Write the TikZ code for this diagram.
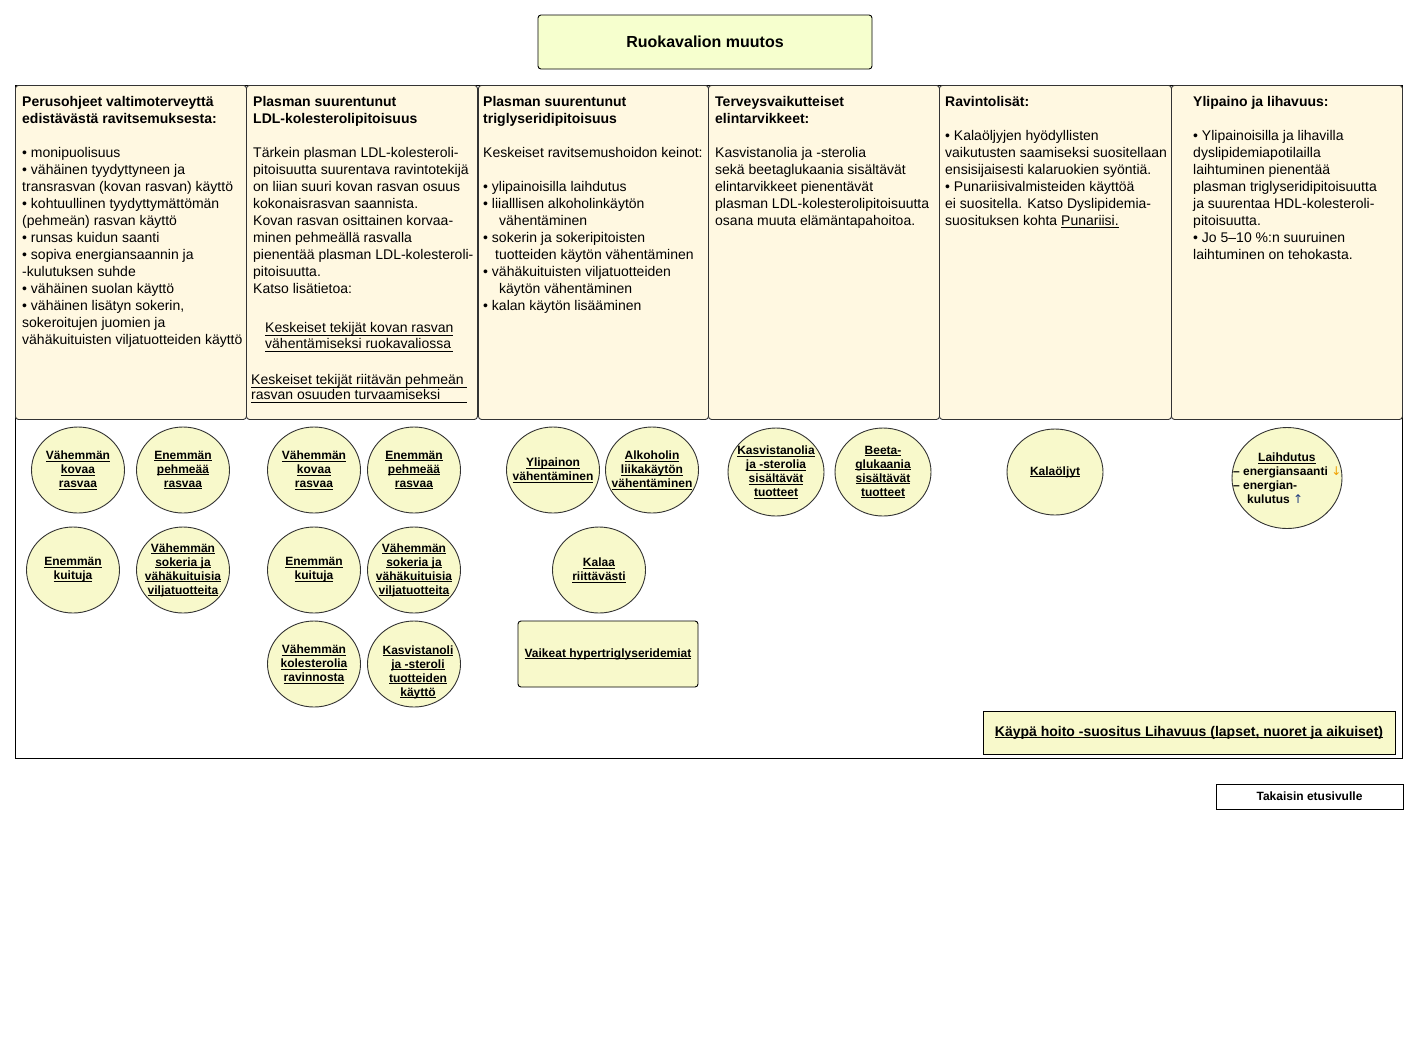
\documentclass[tikz,border=0pt]{standalone}
\usepackage{fontspec}
\setmainfont{Liberation Sans}
\newfontfamily\arrowfont{DejaVu Sans}
\usetikzlibrary{shapes.geometric}
\definecolor{colfill}{HTML}{FFF8E1}
\definecolor{circfill}{HTML}{F8F9CB}
\definecolor{titlefill}{HTML}{F6FFCE}
\definecolor{edgegray}{HTML}{333333}
\definecolor{arrorange}{HTML}{F0A000}
\definecolor{arrblue}{HTML}{203C80}
\newcommand\ulk[1]{\leavevmode\begingroup\setbox0\hbox{#1}\rlap{\rule[-2pt]{\wd0}{0.8pt}}\box0\endgroup}
\newcommand\ulw[2]{\leavevmode\rlap{\rule[-3pt]{#1}{0.7pt}}#2}
\begin{document}
\begin{tikzpicture}[x=1pt,y=-1pt,
  colbox/.style={draw=edgegray, line width=0.9pt, fill=colfill, rounded corners=3pt, anchor=north west, minimum width=231pt, minimum height=334pt, inner sep=0pt},
  coltext/.style={anchor=north west, inner sep=0pt, align=left, font=\fontsize{14}{17}\selectfont},
  linktext/.style={anchor=north west, inner sep=0pt, align=left, font=\fontsize{14}{16}\selectfont},
  circ/.style={draw=edgegray, line width=0.9pt, fill=circfill, ellipse, minimum width=93pt, minimum height=86pt, inner sep=0pt},
  ctext/.style={align=center, inner sep=0pt, font=\fontsize{12}{14}\selectfont\bfseries},
  smallbox/.style={draw=black, line width=0.9pt, fill=circfill, inner sep=0pt}]
\fill[white] (0,0) rectangle (1418,1061);
\useasboundingbox (0,0) rectangle (1418,1061);

% title
\node[draw=black, line width=0.9pt, fill=titlefill, rounded corners=3pt, minimum width=334pt, minimum height=54pt, inner sep=0pt, font=\fontsize{16}{18}\selectfont\bfseries] (title) at (705,42) {Ruokavalion muutos};

% outer frame
\node[draw=black, line width=0.9pt, anchor=north west, minimum width=1387pt, minimum height=673pt, inner sep=0pt] (frame) at (15,85) {};

% column boxes
\node[colbox] (col1) at (15,85) {};
\node[colbox] (col2) at (246,85) {};
\node[colbox, minimum width=230pt] (col3) at (478,85) {};
\node[colbox] (col4) at (708,85) {};
\node[colbox, minimum width=232pt] (col5) at (939,85) {};
\node[colbox] (col6) at (1171,85) {};

% column texts
\node[coltext] (t1) at (22,96) {\textbf{Perusohjeet valtimoterveyttä}\\\textbf{edistävästä ravitsemuksesta:}\\[17pt]
• monipuolisuus\\
• vähäinen tyydyttyneen ja\\
transrasvan (kovan rasvan) käyttö\\
• kohtuullinen tyydyttymättömän\\
(pehmeän) rasvan käyttö\\
• runsas kuidun saanti\\
• sopiva energiansaannin ja\\
-kulutuksen suhde\\
• vähäinen suolan käyttö\\
• vähäinen lisätyn sokerin,\\
sokeroitujen juomien ja\\
vähäkuituisten viljatuotteiden käyttö};

\node[coltext] (t2) at (253,96) {\textbf{Plasman suurentunut}\\\textbf{LDL-kolesterolipitoisuus}\\[17pt]
Tärkein plasman LDL-kolesteroli-\\
pitoisuutta suurentava ravintotekijä\\
on liian suuri kovan rasvan osuus\\
kokonaisrasvan saannista.\\
Kovan rasvan osittainen korvaa-\\
minen pehmeällä rasvalla\\
pienentää plasman LDL-kolesteroli-\\
pitoisuutta.\\
Katso lisätietoa:};

\node[linktext] (link1) at (265,322) {\ulw{188pt}{Keskeiset tekijät kovan rasvan}\\\ulw{188pt}{vähentämiseksi ruokavaliossa}};
\node[linktext, font=\fontsize{14}{15}\selectfont] (link2) at (251,374) {\ulw{216pt}{Keskeiset tekijät riitävän pehmeän}\\\ulw{216pt}{rasvan osuuden turvaamiseksi}};

\node[coltext] (t3) at (483,96) {\textbf{Plasman suurentunut}\\\textbf{triglyseridipitoisuus}\\[17pt]
Keskeiset ravitsemushoidon keinot:\\[17pt]
• ylipainoisilla laihdutus\\
• liialllisen alkoholinkäytön\\
\hspace*{16pt}vähentäminen\\
• sokerin ja sokeripitoisten\\
\hspace*{12pt}tuotteiden käytön vähentäminen\\
• vähäkuituisten viljatuotteiden\\
\hspace*{16pt}käytön vähentäminen\\
• kalan käytön lisääminen};

\node[coltext] (t4) at (715,96) {\textbf{Terveysvaikutteiset}\\\textbf{elintarvikkeet:}\\[17pt]
Kasvistanolia ja -sterolia\\
sekä beetaglukaania sisältävät\\
elintarvikkeet pienentävät\\
plasman LDL-kolesterolipitoisuutta\\
osana muuta elämäntapahoitoa.};

\node[coltext] (t5) at (945,96) {\textbf{Ravintolisät:}\\[17pt]
• Kalaöljyjen hyödyllisten\\
vaikutusten saamiseksi suositellaan\\
ensisijaisesti kalaruokien syöntiä.\\
• Punariisivalmisteiden käyttöä\\
ei suositella. Katso Dyslipidemia-\\
suosituksen kohta \ulk{Punariisi.}};

\node[coltext] (t6) at (1193,96) {\textbf{Ylipaino ja lihavuus:}\\[17pt]
• Ylipainoisilla ja lihavilla\\
dyslipidemiapotilailla\\
laihtuminen pienentää\\
plasman triglyseridipitoisuutta\\
ja suurentaa HDL-kolesteroli-\\
pitoisuutta.\\
• Jo 5–10 \%:n suuruinen\\
laihtuminen on tehokasta.};

% circles column 1
\node[circ] (c1) at (78,470) {};
\node[ctext] (c1t) at (c1.center) {\ulk{Vähemmän}\\\ulk{kovaa}\\\ulk{rasvaa}};
\node[circ] (c2) at (183,470) {};
\node[ctext] (c2t) at (c2.center) {\ulk{Enemmän}\\\ulk{pehmeää}\\\ulk{rasvaa}};
\node[circ] (c3) at (73,570) {};
\node[ctext] (c3t) at (c3.center) {\ulk{Enemmän}\\\ulk{kuituja}};
\node[circ] (c4) at (183,570) {};
\node[ctext] (c4t) at (c4.center) {\ulk{Vähemmän}\\\ulk{sokeria ja}\\\ulk{vähäkuituisia}\\\ulk{viljatuotteita}};

% circles column 2
\node[circ] (c5) at (314,470) {};
\node[ctext] (c5t) at (c5.center) {\ulk{Vähemmän}\\\ulk{kovaa}\\\ulk{rasvaa}};
\node[circ] (c6) at (414,470) {};
\node[ctext] (c6t) at (c6.center) {\ulk{Enemmän}\\\ulk{pehmeää}\\\ulk{rasvaa}};
\node[circ] (c7) at (314,570) {};
\node[ctext] (c7t) at (c7.center) {\ulk{Enemmän}\\\ulk{kuituja}};
\node[circ] (c8) at (414,570) {};
\node[ctext] (c8t) at (c8.center) {\ulk{Vähemmän}\\\ulk{sokeria ja}\\\ulk{vähäkuituisia}\\\ulk{viljatuotteita}};
\node[circ] (c9) at (314,664) {};
\node[ctext] (c9t) at (c9.center) {\ulk{Vähemmän}\\\ulk{kolesterolia}\\\ulk{ravinnosta}};
\node[circ] (c10) at (414,664) {};
\node[ctext] (c10t) at (418,672) {\ulk{Kasvistanoli}\\\ulk{ja -steroli}\\\ulk{tuotteiden}\\\ulk{käyttö}};

% circles column 3
\node[circ] (c11) at (553,470) {};
\node[ctext] (c11t) at (c11.center) {\ulk{Ylipainon}\\\ulk{vähentäminen}};
\node[circ] (c12) at (652,470) {};
\node[ctext] (c12t) at (c12.center) {\ulk{Alkoholin}\\\ulk{liikakäytön}\\\ulk{vähentäminen}};
\node[circ] (c15) at (599,570) {};
\node[ctext] (c15t) at (c15.center) {\ulk{Kalaa}\\\ulk{riittävästi}};
\node[smallbox, rounded corners=3pt, minimum width=180pt, minimum height=66pt] (vaikeat) at (608,654) {};
\node[ctext] (vaikeatt) at (vaikeat.center) {\ulk{Vaikeat hypertriglyseridemiat}};

% circles column 4
\node[circ, minimum width=96pt, minimum height=88pt] (c13) at (776,472) {};
\node[ctext] (c13t) at (c13.center) {\ulk{Kasvistanolia}\\\ulk{ja -sterolia}\\\ulk{sisältävät}\\\ulk{tuotteet}};
\node[circ, minimum width=96pt, minimum height=88pt] (c14) at (883,472) {};
\node[ctext] (c14t) at (c14.center) {\ulk{Beeta-}\\\ulk{glukaania}\\\ulk{sisältävät}\\\ulk{tuotteet}};

% column 5
\node[circ, minimum width=96pt, minimum height=86pt] (c16) at (1055,472) {};
\node[ctext] (c16t) at (c16.center) {\ulk{Kalaöljyt}};

% column 6
\node[circ, minimum width=110pt, minimum height=101pt] (c17) at (1287,478) {};
\node[ctext, align=left, anchor=west] (c17t) at (1233,478) {\hspace*{25pt}\ulk{Laihdutus}\\
– energiansaanti {\arrowfont\mdseries\color{arrorange}↓}\\
– energian-\\
\hspace*{14pt}kulutus {\arrowfont\mdseries\color{arrblue}↑}};

\node[smallbox, minimum width=412pt, minimum height=43pt] (kaypa) at (1189,732.5) {};
\node[ctext, font=\fontsize{14}{16}\selectfont\bfseries] (kaypat) at (kaypa.center) {\ulk{Käypä hoito -suositus Lihavuus (lapset, nuoret ja aikuiset)}};

% back button
\node[draw=black, line width=0.9pt, fill=white, minimum width=187pt, minimum height=25pt, inner sep=0pt, font=\fontsize{12}{14}\selectfont\bfseries] (back) at (1309.5,796.5) {Takaisin etusivulle};
\end{tikzpicture}
\end{document}
